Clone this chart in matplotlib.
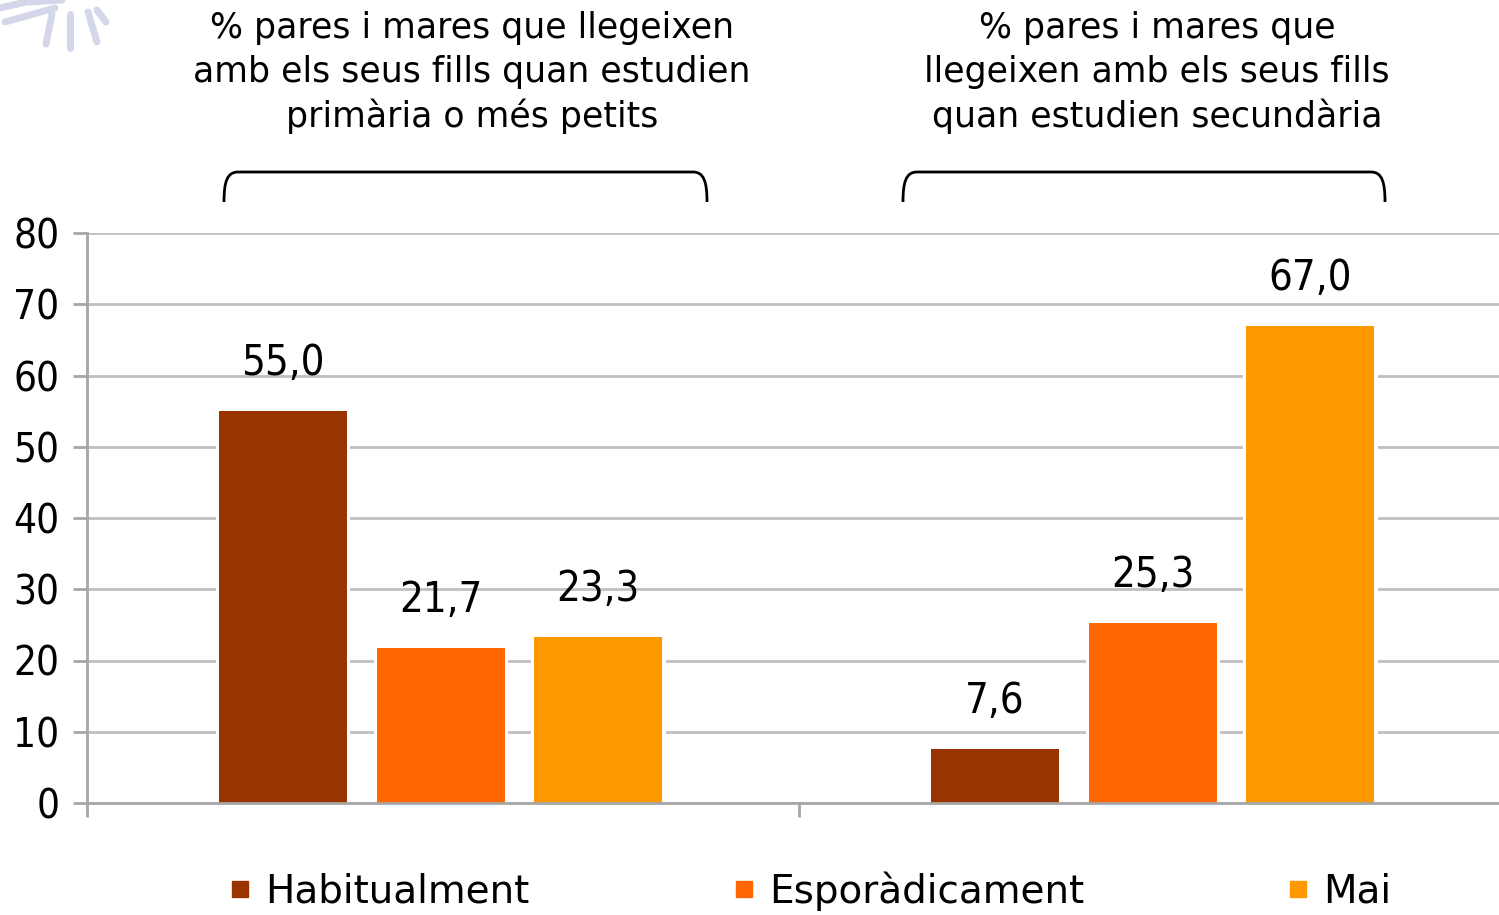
import matplotlib
matplotlib.use("Agg")
import matplotlib.pyplot as plt
from matplotlib.path import Path
from matplotlib.patches import PathPatch
from matplotlib.lines import Line2D
import numpy as np

# --------------------------
# dades
# --------------------------
grups = ["% pares i mares que llegeixen\namb els seus fills quan estudien\nprimària o més petits",
         "% pares i mares que\nllegeixen amb els seus fills\nquan estudien secundària"]
series = ["Habitualment", "Esporàdicament", "Mai"]
habitualment = [55.0, 7.6]
esporadicament = [21.7, 25.3]
mai = [23.3, 67.0]
colors = ["#993300", "#FF6600", "#FF9900"]

W, H = 1499, 915
narrow = ["Liberation Sans Narrow", "DejaVu Sans"]

fig = plt.figure(figsize=(W / 100, H / 100), dpi=100)
ax = fig.add_axes([87 / W, 1 - 803 / H, 1424 / W, 570 / H])

x = np.arange(len(grups))
offsets = [-0.225, -0.003, 0.218]
amplada = 0.18
for vals, off, col in zip([habitualment, esporadicament, mai], offsets, colors):
    # franja blanca darrere la barra per tallar la quadrícula
    ax.bar(x + off, vals, width=amplada + 0.009, color="white", zorder=1.5)
    bars = ax.bar(x + off, vals, width=amplada, color=col, zorder=2)
    for b, v in zip(bars, vals):
        ax.annotate(f"{v:.1f}".replace(".", ","),
                    (b.get_x() + b.get_width() / 2, v),
                    xytext=(0, 26), textcoords="offset points",
                    ha="center", va="baseline", fontsize=30,
                    family=narrow, stretch="condensed")

ax.set_xlim(-0.5, 1.5)
ax.set_ylim(0, 80)
ax.set_yticks(range(0, 81, 10))
ax.set_yticklabels([str(v) for v in range(0, 81, 10)], family=narrow,
                   stretch="condensed", fontsize=29)
ax.set_xticks([-0.5, 0.5, 1.5])
ax.set_xticklabels([])
ax.tick_params(axis="both", length=10, width=2, color="#A6A6A6", pad=10)
ax.yaxis.grid(True, color="#C0C0C0", linewidth=2)
ax.set_axisbelow(True)
for s in ["top", "right"]:
    ax.spines[s].set_visible(False)
for s in ["left", "bottom"]:
    ax.spines[s].set_color("#A6A6A6")
    ax.spines[s].set_linewidth(2)
    ax.spines[s].set_zorder(3)

# títols dels grups
for cx, t in zip([472, 1157], grups):
    fig.text(cx / W, 1 - 11 / H, t, ha="center", va="top", fontsize=25,
             linespacing=1.36, family="DejaVu Sans")

# claus sobre els grups
def clau(x0, x1, ytop=172, ybot=202):
    pts = [(x0, ybot), (x0, 182), (x0 + 3, ytop), (x0 + 14, ytop),
           (x1 - 14, ytop),
           (x1 - 3, ytop), (x1, 182), (x1, ybot)]
    pts = [(px / W, 1 - py / H) for px, py in pts]
    codes = [Path.MOVETO, Path.CURVE4, Path.CURVE4, Path.CURVE4, Path.LINETO,
             Path.CURVE4, Path.CURVE4, Path.CURVE4]
    fig.add_artist(PathPatch(Path(pts, codes), fill=False, lw=2,
                             edgecolor="black", transform=fig.transFigure))

clau(224, 707)
clau(903, 1385)

# decoració (sol) a la cantonada
for (xa, ya, xb, yb) in [(0, 8, 35, 0), (5, 22, 55, 8), (52, 14, 46, 44),
                         (70, 14, 70, 48), (88, 12, 97, 42), (97, 10, 106, 22),
                         (30, 2, 62, 0)]:
    fig.add_artist(Line2D([xa / W, xb / W], [1 - ya / H, 1 - yb / H],
                          color="#D4D6EA", lw=5, solid_capstyle="round"))

# llegenda
handles = [Line2D([], [], marker="s", linestyle="none", markersize=12,
                  markerfacecolor=c, markeredgecolor=c) for c in colors]
fig.legend(handles, series, loc="center", bbox_to_anchor=(810 / W, 1 - 891 / H),
           ncol=3, frameon=False, handlelength=0.6,
           handletextpad=0.35, columnspacing=5.2,
           prop={"family": "DejaVu Sans", "size": 28})

fig.savefig("out.png", dpi=100)
